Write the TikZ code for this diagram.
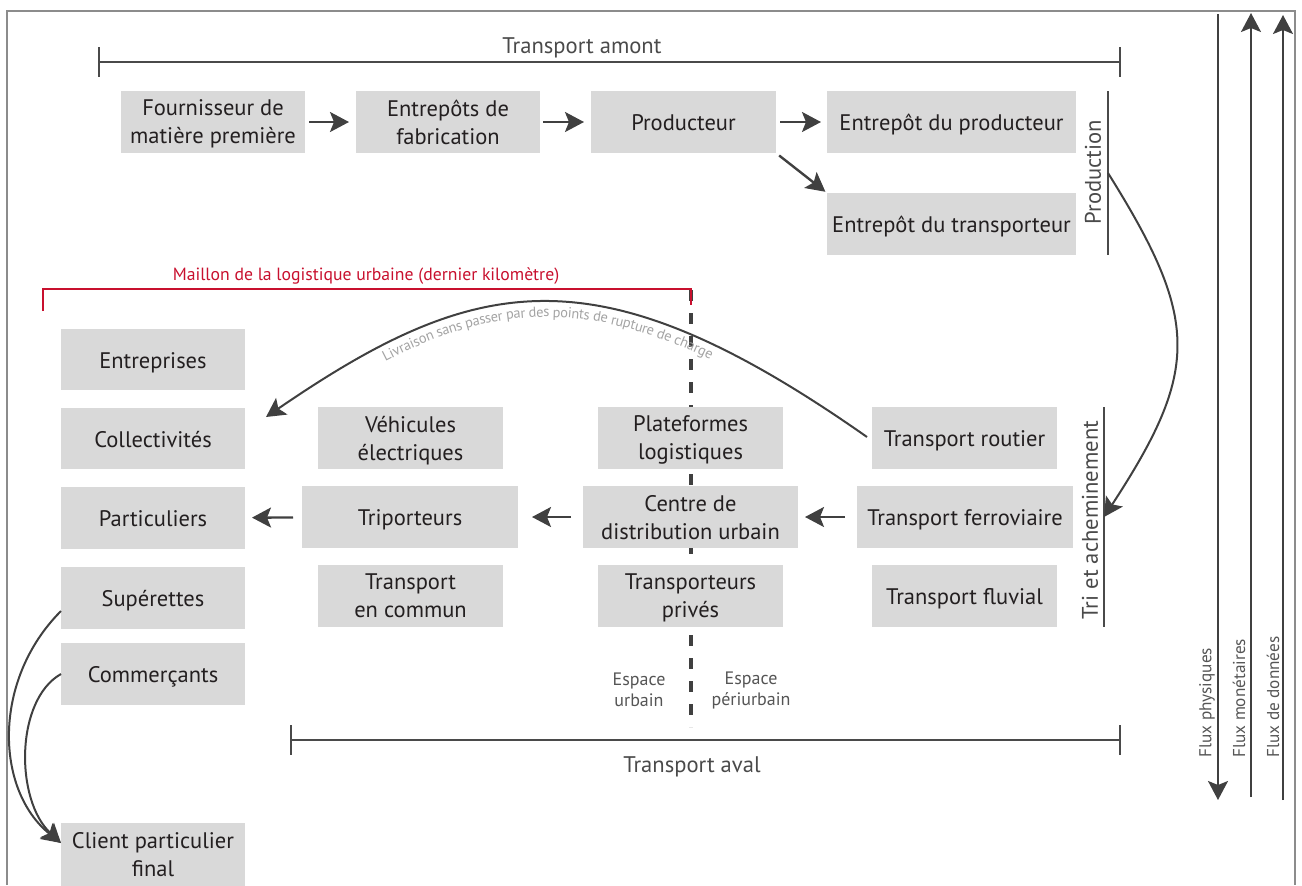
\documentclass[tikz,border=0pt]{standalone}
\usepackage{fontspec}
\setmainfont{PT Sans}
\usetikzlibrary{arrows.meta,decorations.text}
\definecolor{boxgray}{HTML}{D9D9D9}
\definecolor{txt}{HTML}{231F20}
\definecolor{arrgray}{HTML}{404040}
\definecolor{brkgray}{HTML}{4A4A4A}
\definecolor{framegray}{HTML}{8C8C8C}
\definecolor{lblgray}{HTML}{A3A3A3}
\definecolor{espgray}{HTML}{555555}
\definecolor{mred}{HTML}{C8102E}
\newcommand\bxfont{\fontsize{11.25}{14}\selectfont}
\newcommand\brkfont{\fontsize{11.3}{13}\selectfont}
\newcommand\redfont{\fontsize{8.85}{10}\selectfont}
\newcommand\espfont{\fontsize{9}{10.5}\selectfont}
\newcommand\fluxfont{\fontsize{8.6}{9}\selectfont}
\newcommand\arcfont{\fontsize{7.2}{8}\selectfont}
\tikzset{
  bx/.style={fill=boxgray, text=txt, font=\bxfont, align=center, inner sep=0pt, outer sep=0pt, minimum width=92pt, minimum height=31pt},
  sl/.style={text height=8.5pt, text depth=0pt},
  ml/.style={text depth=0pt},
  arr/.style={draw=arrgray, line width=1.2pt, -{Stealth[length=9.5pt,width=10pt,inset=2pt]}},
  carr/.style={draw=arrgray, line width=1pt, -{Stealth[length=9.5pt,width=10pt,inset=2pt]}},
  brk/.style={draw=brkgray, line width=1pt},
  brklbl/.style={text=brkgray, font=\brkfont, inner sep=0pt},
  fluxlbl/.style={text=espgray, font=\fluxfont, inner sep=0pt, rotate=90, anchor=west},
  esplbl/.style={text=espgray, font=\espfont, align=center, inner sep=0pt},
}
\begin{document}
\begin{tikzpicture}[x=0.5pt,y=-0.5pt]
\useasboundingbox (0,0) rectangle (1302,885);
% frame
\draw[draw=framegray, line width=1pt] (7,885) -- (7,11) -- (1295,11) -- (1295,885);

% dashed separation line (behind boxes)
\draw[draw=arrgray, line width=2pt, dash pattern=on 5.5pt off 6pt] (691,290) -- (691,727);

% red bracket
\draw[draw=mred, line width=0.8pt] (43,311) -- (43,289) -- (691,289) -- (691,305);
\node[text=mred, font=\redfont, inner sep=0pt] (maillon) at (366,276) {Maillon de la logistique urbaine (dernier kilomètre)};

% Transport amont bracket
\draw[brk] (99,47) -- (99,77) (99,62) -- (1120,62) (1120,47) -- (1120,77);
\node[brklbl] (tamont) at (582,48) {Transport amont};

% Transport aval bracket
\draw[brk] (291,725) -- (291,755) (291,740) -- (1120,740) (1120,725) -- (1120,755);
\node[brklbl] (taval) at (692,767) {Transport aval};

% boxes - top row
\node[bx, ml] (fourn) at (213,122) {Fournisseur de\\matière première};
\node[bx, ml] (entfab) at (448,122) {Entrepôts de\\fabrication};
\node[bx, sl, minimum width=92.5pt] (prod) at (683.5,122) {Producteur};
\node[bx, sl, minimum width=124.5pt] (entprod) at (951.5,122) {Entrepôt du producteur};
\node[bx, sl, minimum width=124.5pt] (enttrans) at (951.5,224) {Entrepôt du transporteur};

% left column
\node[bx, sl, minimum height=30.5pt] (entreprises) at (153,359.5) {Entreprises};
\node[bx, sl, minimum height=30.5pt] (collect) at (153,438.5) {Collectivités};
\node[bx, sl] (partic) at (153,518) {Particuliers};
\node[bx, sl] (superettes) at (153,598) {Supérettes};
\node[bx, sl] (commer) at (153,674) {Commerçants};
\node[bx, ml, minimum height=31.5pt] (client) at (153,854.5) {Client particulier\\final};

% middle columns
\node[bx, ml, minimum width=92.5pt] (vehic) at (410.5,438) {Véhicules\\électriques};
\node[bx, sl, minimum width=108pt] (tripo) at (410,517) {Triporteurs};
\node[bx, ml, minimum width=92.5pt] (tcommun) at (410.5,596) {Transport\\en commun};

\node[bx, ml, minimum width=92.5pt] (plateformes) at (690.5,438) {Plateformes\\logistiques};
\node[bx, ml, minimum width=107.5pt] (cdu) at (690.5,517) {Centre de\\distribution urbain};
\node[bx, ml, minimum width=92.5pt] (tprives) at (690.5,596) {Transporteurs\\privés};

\node[bx, sl, minimum width=92.5pt] (troutier) at (964.5,438) {Transport routier};
\node[bx, sl, minimum width=108pt] (tferro) at (965,517) {Transport ferroviaire};
\node[bx, sl, minimum width=92.5pt] (tfluvial) at (964.5,596) {Transport fluvial};

% espace labels
\node[esplbl] (eurb) at (639,690) {Espace\\urbain};
\node[esplbl] (eperi) at (751,690) {Espace\\périurbain};

% Production / Tri brackets
\draw[brk] (1108,91) -- (1108,255);
\node[brklbl, rotate=90] (prodlbl) at (1093,172) {Production};
\draw[brk] (1104,407) -- (1104,627);
\node[brklbl, rotate=90] (trilbl) at (1090,520) {Tri et acheminement};
\coordinate (prodpt) at (1108,173);
\coordinate (tript) at (1104,517);

% straight arrows
\draw[arr, shorten <=2pt, shorten >=3.5pt] (fourn) -- (entfab);
\draw[arr, shorten <=1.5pt, shorten >=3.5pt] (entfab) -- (prod);
\draw[arr, shorten <=2pt, shorten >=3pt] (prod) -- (entprod);
\draw[arr, shorten <=2pt, shorten >=1pt] (prod.south east) -- (enttrans.north west);
\draw[arr, shorten <=6pt, shorten >=3.5pt] (tferro) -- (cdu);
\draw[arr, shorten <=6pt, shorten >=7pt] (cdu) -- (tripo);
\draw[arr, shorten <=4.5pt, shorten >=3.5pt] (tripo) -- (partic);

% curved arrows
\draw[carr] (prodpt) .. controls (1200,320) and (1200,370) .. (tript);
\draw[carr] ([xshift=-2.5pt,yshift=0.5pt]troutier.west) .. controls (598.5,248.6) and (477.7,272) .. ([xshift=10.5pt,yshift=10.75pt]collect.east);
\path[decorate, decoration={text along path, text={|\arcfont|Livraison sans passer par des points de rupture de charge}, text color=lblgray, text align={left, left indent=66pt}, raise=-7.5pt}] (266,417) .. controls (477.7,272) and (598.5,248.6) .. (867,437);
\draw[carr] ([yshift=-6.5pt]superettes.west) .. controls (-8,680) and (-5,790) .. ([yshift=5.75pt]client.west);
\draw[carr] (commer.west) .. controls (15,700) and (15,800) .. ([yshift=5.75pt]client.west);

% flux arrows
\coordinate (fpA) at (1218,14);
\coordinate (fpB) at (1218,800);
\coordinate (fmA) at (1251,797);
\coordinate (fmB) at (1251,13);
\coordinate (fdA) at (1283,800);
\coordinate (fdB) at (1283,15);
\draw[arr, line width=1pt] (fpA) -- (fpB);
\draw[arr, line width=1pt] (fmA) -- (fmB);
\draw[arr, line width=1pt] (fdA) -- (fdB);
\node[fluxlbl] (flphys) at (1207,758) {Flux physiques};
\node[fluxlbl] (flmon) at (1239,758) {Flux monétaires};
\node[fluxlbl] (fldon) at (1273,758) {Flux de données};
\end{tikzpicture}
\end{document}
